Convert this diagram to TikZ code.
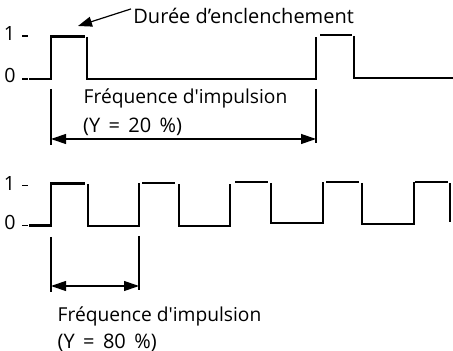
\documentclass[tikz,border=0pt]{standalone}
\usepackage{fontspec}
\setmainfont{Open Sans}[Ligatures=TeXOff]
\usetikzlibrary{arrows.meta}
\newcommand{\widesp}{\spaceskip=0.42em plus 0pt minus 0pt\relax}
\begin{document}
\begin{tikzpicture}[x=0.5pt,y=-0.5pt,
  wave/.style={line width=1.25pt,line join=miter,line cap=butt},
  thin/.style={line width=0.6pt},
  dim/.style={line width=0.6pt,{Triangle[length=7.5pt,width=5pt]}-{Triangle[length=7.5pt,width=5pt]}},
  lbl/.style={font=\fontsize{9.6}{11}\selectfont,inner sep=0pt,anchor=base west},
  pct/.style={font=\fontsize{10}{12}\selectfont,inner sep=0pt,anchor=base west},
  lvl/.style={font=\fontsize{9.8}{11}\selectfont,inner sep=0pt}]
\useasboundingbox (0,0) rectangle (453,351);
% ---------- top waveform ----------
\draw[wave] (29,79)--(51,79)--(51,36.5)--(85,36.5);
\draw[wave] (87,37)--(87,79)--(316,79)--(316,37);
\draw[wave] (320,35)--(352,35);
\draw[wave] (354,36)--(354,78)--(453,78);
\node[lvl] (t1) at (9.5,34) {1};
\node[lvl] (t0) at (10,75) {0};
\draw[thin] (22,36)--(28,36);
\draw[thin] (22,79)--(28,79);
% duration label
\node[lbl,font=\fontsize{10}{12}\selectfont] (dur) at (133,23.5) {Durée d’enclenchement};
\coordinate (durtip) at (78,26);
\draw[line width=0.6pt,-{Triangle[length=7pt,width=5pt]}] (dur.west) ++(-2,-7) coordinate (durstart) -- (durtip);
% period markers top
\coordinate (ta1) at (51,89); \coordinate (ta2) at (51,145);
\coordinate (tb1) at (316,89); \coordinate (tb2) at (316,143);
\draw[thin] (ta1)--(ta2);
\draw[thin] (tb1)--(tb2);
\coordinate (tl) at (51,139); \coordinate (tr) at (316,139);
\draw[dim] (tl)--(tr);
\node[lbl] (tf) at (83.3,104) {Fréquence d'impulsion};
\node[pct] (ty) at (82.7,133) {\widesp (Y = 20 \%)};
% ---------- bottom waveform ----------
\draw[wave] (29,225.7)--(51,225.7)--(51,183.5)--(85,183.5);
\draw[wave] (88,184)--(88,226)--(139,226)--(139,183.5);
\draw[wave] (142,183)--(175,183);
\draw[wave] (179,184)--(179,226)--(230,226)--(230,184);
\draw[wave] (235,182)--(268,182);
\draw[wave] (271,183)--(271,223)--(323,223)--(323,182);
\draw[wave] (326,182)--(359,182);
\draw[wave] (362,183)--(362,224)--(414,224)--(414,182);
\draw[wave] (415,182)--(448,182);
\draw[wave] (450,183)--(450,222);
\node[lvl] (b1) at (9.5,184) {1};
\node[lvl] (b0) at (10,222) {0};
\draw[thin] (22,185.5)--(28,185.5);
\draw[thin] (22,225.7)--(28,225.7);
% period markers bottom
\coordinate (ba1) at (51,237); \coordinate (ba2) at (51,292);
\coordinate (bb1) at (139,236); \coordinate (bb2) at (139,290);
\draw[thin] (ba1)--(ba2);
\draw[thin] (bb1)--(bb2);
\coordinate (bl) at (51,286); \coordinate (br) at (139,286);
\draw[dim] (bl)--(br);
\node[lbl] (bf) at (57.3,321.7) {Fréquence d'impulsion};
\node[pct] (by) at (57.3,348) {\widesp (Y = 80 \%)};
\end{tikzpicture}
\end{document}
